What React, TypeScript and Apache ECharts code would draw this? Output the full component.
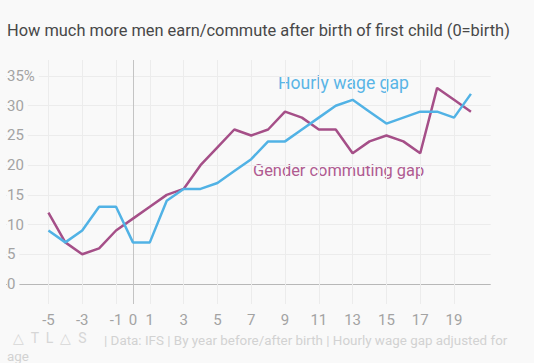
import React, { useEffect, useRef } from "react";
import * as echarts from "echarts";

const years = [-5, -4, -3, -2, -1, 0, 1, 2, 3, 4, 5, 6, 7, 8, 9, 10, 11, 12, 13, 14, 15, 16, 17, 18, 19, 20];
const wageGap = [9, 7, 9, 13, 13, 7, 7, 14, 16, 16, 17, 19, 21, 24, 24, 26, 28, 30, 31, 29, 27, 28, 29, 29, 28, 32];
const commuteGap = [12, 7, 5, 6, 9, 11, 13, 15, 16, 20, 23, 26, 25, 26, 29, 28, 26, 26, 22, 24, 25, 24, 22, 33, 31, 29];
const xTicks = [-5, -3, -1, 0, 1, 3, 5, 7, 9, 11, 13, 15, 17, 19];
const yTicks = [0, 5, 10, 15, 20, 25, 30, 35];

const TITLE = "How much more men earn/commute after birth of first child (0=birth)";
const WAGE_NAME = "Hourly wage gap";
const COMMUTE_NAME = "Gender commuting gap";
const SOURCE = "| Data: IFS | By year before/after birth | Hourly wage gap adjusted for";
const SOURCE_WRAP = "age";

const BG = "#f9f9f9";
const BLUE = "#51b2e5";
const PURPLE = "#a54f88";

export default function App() {
  const ref = useRef<HTMLDivElement>(null);
  useEffect(() => {
    document.body.style.margin = "0";
    document.body.style.background = BG;
    if (!ref.current) return;
    const chart = echarts.init(ref.current, null, { renderer: "svg" });
    const font = "Roboto, 'Noto Sans', sans-serif";
    chart.setOption({
      animation: false,
      backgroundColor: BG,
      textStyle: { fontFamily: font },
      grid: { left: 6, right: 43.3, top: 60, bottom: 59 },
      xAxis: {
        type: "value",
        min: -7.51,
        max: 21.17,
        axisLine: { show: false, onZero: false },
        axisTick: { show: false, customValues: xTicks },
        axisLabel: {
          customValues: xTicks,
          color: "#a3a3a3",
          fontSize: 15,
          margin: 8,
          fontFamily: font,
        },
        splitLine: {
          show: true,
          lineStyle: {
            color: xTicks.map((t) => (t === 0 ? "#c4c4c4" : "#ececec")),
            width: 1,
          },
        },
      },
      yAxis: {
        type: "value",
        min: -3.37,
        max: 37.7,
        axisLine: { show: false },
        axisTick: { show: false, customValues: yTicks },
        axisLabel: {
          customValues: yTicks,
          inside: true,
          margin: 1,
          color: "#a3a3a3",
          fontSize: 15,
          fontFamily: font,
          backgroundColor: BG,
          padding: [0, 4, 0, 0],
          formatter: (v: number) => (v === 35 ? "35%" : String(v)),
        },
        splitLine: {
          show: true,
          lineStyle: {
            color: yTicks.map((t) => (t === 0 ? "#b8b8b8" : "#ececec")),
            width: 1,
          },
        },
      },
      series: [
        {
          name: WAGE_NAME,
          type: "line",
          data: years.map((y, i) => [y, wageGap[i]]),
          symbol: "none",
          lineStyle: { color: BLUE, width: 2.5 },
          itemStyle: { color: BLUE },
          z: 3,
        },
        {
          name: COMMUTE_NAME,
          type: "line",
          data: years.map((y, i) => [y, commuteGap[i]]),
          symbol: "none",
          lineStyle: { color: PURPLE, width: 2.5 },
          itemStyle: { color: PURPLE },
          z: 2,
        },
      ],
      graphic: [
        {
          type: "text",
          x: 7,
          y: 30,
          style: {
            text: TITLE,
            fill: "#484848",
            fontSize: 16.4,
            fontFamily: font,
            verticalAlign: "middle",
          },
        },
        {
          type: "text",
          x: 278,
          y: 83,
          style: {
            text: WAGE_NAME,
            fill: "#5ab5e6",
            fontSize: 17.6,
            fontFamily: font,
            verticalAlign: "middle",
          },
        },
        {
          type: "text",
          x: 253,
          y: 170,
          style: {
            text: COMMUTE_NAME,
            fill: "#b05b91",
            fontSize: 16.4,
            fontFamily: font,
            verticalAlign: "middle",
          },
        },
        {
          type: "text",
          x: 13,
          y: 338,
          style: {
            text: "△  T  L  △  S",
            fill: "#d6d6d6",
            fontSize: 14,
            fontFamily: font,
            verticalAlign: "middle",
          },
        },
        {
          type: "text",
          x: 104,
          y: 340,
          style: {
            text: SOURCE,
            fill: "#d2d2d2",
            fontSize: 13.4,
            fontFamily: font,
            verticalAlign: "middle",
          },
        },
        {
          type: "text",
          x: 7,
          y: 356,
          style: {
            text: SOURCE_WRAP,
            fill: "#d2d2d2",
            fontSize: 13.4,
            fontFamily: font,
            verticalAlign: "middle",
          },
        },
      ],
    });
    return () => chart.dispose();
  }, []);
  return <div ref={ref} style={{ width: 534, height: 363, background: BG }} />;
}
